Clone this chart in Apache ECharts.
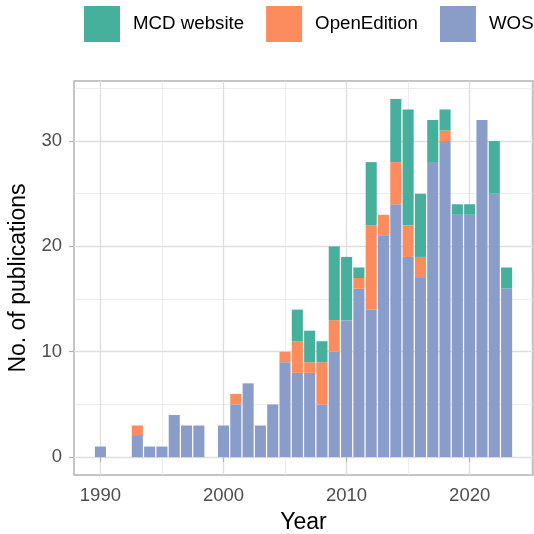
<!DOCTYPE html>
<html>
<head>
<meta charset="utf-8">
<style>
  html, body { margin: 0; padding: 0; background: #fff; }
  #chart { width: 534px; height: 534px; }
</style>
<script src="https://cdn.jsdelivr.net/npm/echarts@6/dist/echarts.min.js"></script>
</head>
<body>
<div id="chart"></div>
<script>
const years = [1990, 1991, 1992, 1993, 1994, 1995, 1996, 1997, 1998, 1999,
  2000, 2001, 2002, 2003, 2004, 2005, 2006, 2007, 2008, 2009,
  2010, 2011, 2012, 2013, 2014, 2015, 2016, 2017, 2018, 2019,
  2020, 2021, 2022, 2023]
const wos = [1, 0, 0, 2, 1, 1, 4, 3, 3, 0,
  3, 5, 7, 3, 5, 9, 8, 8, 5, 10,
  13, 16, 14, 21, 24, 19, 17, 28, 30, 23,
  23, 32, 25, 16]
const openEdition = [0, 0, 0, 1, 0, 0, 0, 0, 0, 0,
  0, 1, 0, 0, 0, 1, 3, 1, 4, 3,
  0, 1, 8, 2, 4, 3, 2, 0, 1, 0,
  0, 0, 0, 0]
const mcd = [0, 0, 0, 0, 0, 0, 0, 0, 0, 0,
  0, 0, 0, 0, 0, 0, 3, 3, 2, 7,
  6, 1, 6, 0, 6, 11, 6, 4, 2, 1,
  1, 0, 5, 2]
const xTicks = [1990, 2000, 2010, 2020]
const yTicks = [0, 10, 20, 30]

const chart = echarts.init(document.getElementById('chart'))

// count first, year second: the stack takes the first numeric dimension
function pairs(vals) {
  return years.map((y, i) => [vals[i], y])
}

const font = 'Liberation Sans, Arial, Helvetica, sans-serif'

function barSeries(name, vals, color) {
  return {
    name: name,
    type: 'bar',
    stack: 'total',
    encode: { x: 1, y: 0 },
    data: pairs(vals),
    barWidth: '90%',
    itemStyle: { color: color },
  }
}

chart.setOption({
  animation: false,
  textStyle: { fontFamily: font },
  legend: {
    data: ['MCD website', 'OpenEdition', 'WOS'],
    left: 79,
    top: 1,
    width: 700,
    itemWidth: 36,
    itemHeight: 36,
    itemGap: 22,
    icon: 'rect',
    textStyle: { fontSize: 18.7, color: '#000', padding: [0, 0, 0, 8] },
  },
  grid: {
    left: 74, right: 1, top: 81, bottom: 59,
    show: true,
    borderColor: '#b3b3b3',
    borderWidth: 1.5,
    containLabel: false,
    outerBoundsMode: 'none',
  },
  xAxis: {
    type: 'value',
    min: 1987.855,
    max: 2025.145,
    name: 'Year',
    nameLocation: 'middle',
    nameGap: 36,
    nameTextStyle: { fontSize: 23, color: '#000' },
    axisLine: { show: false },
    axisTick: { show: true, length: 5, lineStyle: { color: '#b3b3b3', width: 1.2 }, customValues: xTicks },
    axisLabel: { fontSize: 18.5, color: '#4d4d4d', margin: 11, customValues: xTicks, formatter: (v) => String(v) },
    splitLine: { show: true, lineStyle: { color: '#dedede', width: 1.3 } },
    minorTick: { show: false, splitNumber: 2 },
    minorSplitLine: { show: true, lineStyle: { color: '#e8e8e8', width: 0.8 } },
  },
  yAxis: {
    type: 'value',
    min: -1.7,
    max: 35.7,
    name: 'No. of publications',
    nameLocation: 'middle',
    nameGap: 41,
    nameTextStyle: { fontSize: 23, color: '#000' },
    axisLine: { show: false },
    axisTick: { show: true, length: 5, lineStyle: { color: '#b3b3b3', width: 1.2 }, customValues: yTicks },
    axisLabel: { fontSize: 18.5, color: '#4d4d4d', margin: 12, customValues: yTicks },
    splitLine: { show: true, lineStyle: { color: '#dedede', width: 1.3 } },
    minorTick: { show: false, splitNumber: 2 },
    minorSplitLine: { show: true, lineStyle: { color: '#e8e8e8', width: 0.8 } },
  },
  series: [
    barSeries('WOS', wos, '#8a9dc9'),
    barSeries('OpenEdition', openEdition, '#fc8c5e'),
    barSeries('MCD website', mcd, '#47b09d'),
  ],
})
</script>
</body>
</html>
